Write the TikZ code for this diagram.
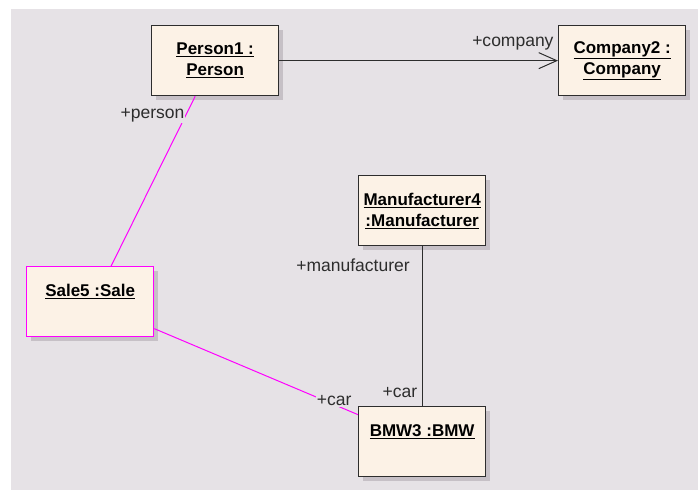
\documentclass[tikz,border=0pt]{standalone}
\usepackage{fontspec}
\setmainfont{Liberation Sans}
\usetikzlibrary{arrows.meta}
\usetikzlibrary{shadows}
\definecolor{canvas}{RGB}{230,226,230}
\definecolor{objfill}{RGB}{252,242,230}
\definecolor{objshadow}{RGB}{198,192,198}
\definecolor{linkpink}{RGB}{255,0,255}
\definecolor{inkgray}{RGB}{45,45,45}
\tikzstyle{obj}=[draw=inkgray, line width=1.3pt, fill=objfill, inner sep=0pt, minimum width=127pt, minimum height=70pt, align=center, font=\fontsize{17}{21}\selectfont\bfseries, text=black, drop shadow={shadow xshift=4pt, shadow yshift=-4pt, fill=objshadow, opacity=1}]
\tikzstyle{topobj}=[obj, text height=30pt, text depth=40pt]
\tikzstyle{role}=[font=\fontsize{17.5}{20}\selectfont, text=inkgray, inner sep=1pt, fill=canvas]
\tikzstyle{link}=[line width=1pt, draw=inkgray]

\begin{document}
\begin{tikzpicture}[x=1pt, y=-1pt]
    \useasboundingbox (0,0) rectangle (698,490);
    \fill[white] (0,0) rectangle (698,490);
    \fill[canvas] (11,9) rectangle (698,490);
    \node[obj, anchor=north west] (person) at (151,25) {\underline{Person1 :}\\\underline{Person}};
    \node[obj, anchor=north west] (company) at (558,25) {\underline{Company2 :}\\\underline{Company}};
    \node[obj, anchor=north west] (maker) at (358,175) {\underline{Manufacturer4}\\\underline{:Manufacturer}};
    \node[topobj, draw=linkpink, anchor=north west] (sale) at (26,266) {\underline{Sale5 :Sale}};
    \node[topobj, anchor=north west] (bmw) at (358,406) {\underline{BMW3 :BMW}};
    \draw[link, -{Straight Barb[length=18pt, width=16pt]}] (person) -- (company)
        node[role, pos=1, anchor=south east, xshift=-3pt, yshift=9pt] {+company};
    \draw[link, draw=linkpink] ([xshift=-20pt]person.south) -- ([xshift=21pt]sale.north)
        node[role, pos=.11, anchor=east] {+person};
    \draw[link, draw=linkpink] ([yshift=-27pt]sale.east) -- ([yshift=27pt]bmw.west)
        node[role, pos=1, anchor=south east, xshift=-5pt, yshift=7.5pt] {+car};
    \draw[link] (maker) -- (bmw)
        node[role, pos=.118, anchor=east, xshift=-11pt] {+manufacturer}
        node[role, pos=1, anchor=south east, xshift=-3.5pt, yshift=6.5pt] {+car};
\end{tikzpicture}
\end{document}
